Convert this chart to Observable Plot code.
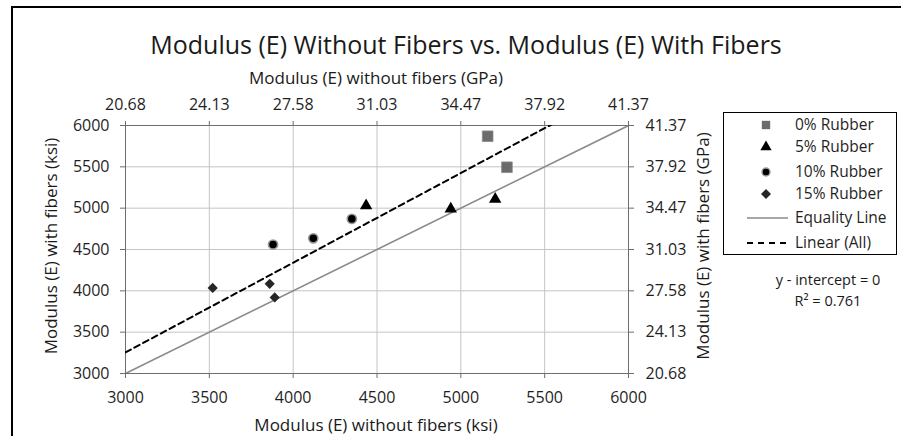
<!DOCTYPE html>
<html>
<head>
<meta charset="utf-8">
<script src="https://cdn.jsdelivr.net/npm/d3@7"></script>
<script src="https://cdn.jsdelivr.net/npm/@observablehq/plot@0.6"></script>
<style>
  body { margin: 0; background: #fff; }
  #wrap { position: relative; width: 901px; height: 436px; overflow: hidden; font-family: "Open Sans", sans-serif; color: #1a1a1a; }
  #border { position: absolute; left: 11px; top: 6px; width: 1000px; height: 1000px; border-left: 2.5px solid #000; border-top: 2.5px solid #000; }
  #chart { position: absolute; left: 0; top: 0; }
  .t { position: absolute; white-space: nowrap; line-height: 1; }
  #title { font-size: 25px; }
  .axt { font-size: 17px; }
  .ann { font-size: 14.5px; }
  #legend { position: absolute; left: 723px; top: 112px; width: 172px; height: 141px; border: 1.5px solid #000; background: #fff; }
  #legend svg { position: absolute; left: 0; top: 0; }
</style>
</head>
<body>
<div id="wrap">
  <div id="border"></div>
  <div id="chart"></div>
  <div id="title" class="t"></div>
  <div id="xTopTitle" class="t axt"></div>
  <div id="xBotTitle" class="t axt"></div>
  <div id="yLeftTitle" class="t axt"></div>
  <div id="yRightTitle" class="t axt"></div>
  <div id="legend"></div>
  <div id="ann1" class="t ann"></div>
  <div id="ann2" class="t ann"></div>
</div>
<script>
// ---- data ----
const titleText = "Modulus (E) Without Fibers vs. Modulus (E) With Fibers";
const xTopLabel = "Modulus (E) without fibers (GPa)";
const xBotLabel = "Modulus (E) without fibers (ksi)";
const yLeftLabel = "Modulus (E) with fibers (ksi)";
const yRightLabel = "Modulus (E) with fibers (GPa)";
const ksiTicks = [3000, 3500, 4000, 4500, 5000, 5500, 6000];
const gpaLabels = ["20.68", "24.13", "27.58", "31.03", "34.47", "37.92", "41.37"];
const seriesNames = ["0% Rubber", "5% Rubber", "10% Rubber", "15% Rubber"];
const rubber0X = [5160, 5275];
const rubber0Y = [5870, 5495];
const rubber5X = [4435, 4940, 5205];
const rubber5Y = [5030, 4990, 5110];
const rubber10X = [3880, 4120, 4350];
const rubber10Y = [4560, 4635, 4870];
const rubber15X = [3520, 3860, 3890];
const rubber15Y = [4035, 4085, 3920];
const lineNames = ["Equality Line", "Linear (All)"];
const trendSlope = 1.085;
const interceptText = "y - intercept = 0";
const r2Text = "R\u00B2 = 0.761";

// ---- build table ----
const seriesX = [rubber0X, rubber5X, rubber10X, rubber15X];
const seriesY = [rubber0Y, rubber5Y, rubber10Y, rubber15Y];
const points = [];
seriesNames.forEach((s, i) => seriesX[i].forEach((x, j) => points.push({ series: s, x, y: seriesY[i][j] })));
const bySeries = s => points.filter(p => p.series === s);
const domain = [ksiTicks[0], ksiTicks[ksiTicks.length - 1]];
const equality = domain.map(x => ({ x, y: x }));
const trend = domain.map(x => ({ x, y: trendSlope * x }));
const gpa = d => gpaLabels[ksiTicks.indexOf(d)];

const fontFam = '"Open Sans", sans-serif';
const axisStroke = "#6e6e6e";
const tickText = "#1f1f1f";

const chart = Plot.plot({
  width: 901,
  height: 436,
  marginTop: 125,
  marginBottom: 63,
  marginLeft: 125,
  marginRight: 273,
  style: { fontFamily: fontFam, fontSize: "16px", color: tickText, background: "transparent", overflow: "visible" },
  x: { domain, type: "linear" },
  y: { domain, type: "linear" },
  marks: [
    Plot.gridX(ksiTicks, { stroke: "#c4c4c4", strokeOpacity: 1 }),
    Plot.gridY(ksiTicks, { stroke: "#c4c4c4", strokeOpacity: 1 }),
    Plot.frame({ stroke: axisStroke }),
    Plot.axisX(ksiTicks, { anchor: "bottom", tickSize: 5, tickPadding: 13, stroke: axisStroke, fill: tickText, label: null, tickFormat: d => String(d) }),
    Plot.axisX(ksiTicks, { anchor: "top", tickSize: 5, tickPadding: 11, stroke: axisStroke, fill: tickText, label: null, tickFormat: gpa }),
    Plot.axisY(ksiTicks, { anchor: "left", tickSize: 5, tickPadding: 11, stroke: axisStroke, fill: tickText, label: null, tickFormat: d => String(d) }),
    Plot.axisY(ksiTicks, { anchor: "right", tickSize: 5, tickPadding: 12, stroke: axisStroke, fill: tickText, label: null, tickFormat: gpa }),
    Plot.line(equality, { x: "x", y: "y", stroke: "#8a8a8a", strokeWidth: 1.6, clip: true }),
    Plot.line(trend, { x: "x", y: "y", stroke: "#000", strokeWidth: 2, strokeDasharray: "6,4", clip: true }),
    Plot.dot(bySeries(seriesNames[0]), { x: "x", y: "y", symbol: "square", r: 6, fill: "#6b6b6b", stroke: "#8a8a8a", strokeWidth: 0.8 }),
    Plot.dot(bySeries(seriesNames[1]), { x: "x", y: "y", symbol: "triangle", r: 4.6, fill: "#000", stroke: "none" }),
    Plot.dot(bySeries(seriesNames[2]), { x: "x", y: "y", symbol: "circle", r: 4.6, fill: "#000", stroke: "#9a9a9a", strokeWidth: 1.6 }),
    Plot.dot(bySeries(seriesNames[3]), { x: "x", y: "y", symbol: "diamond2", r: 4.6, fill: "#262626", stroke: "none" })
  ]
});
document.getElementById("chart").appendChild(chart);

// ---- texts ----
function place(id, text, x, y, rot) {
  const el = document.getElementById(id);
  el.textContent = text;
  el.style.left = x + "px";
  el.style.top = y + "px";
  el.style.transform = "translate(-50%, -50%)" + (rot ? " rotate(" + rot + "deg)" : "");
}
place("title", titleText, 466, 44);
place("xTopTitle", xTopLabel, 376, 77);
place("xBotTitle", xBotLabel, 376, 424);
place("yLeftTitle", yLeftLabel, 50, 246, -90);
place("yRightTitle", yRightLabel, 702, 246, -90);
place("ann1", interceptText, 828, 280);
place("ann2", r2Text, 828, 301);

// ---- legend ----
const sym = [d3.symbolSquare, d3.symbolTriangle, d3.symbolCircle, d3.symbolSquare];
const symFill = ["#6b6b6b", "#000", "#000", "#262626"];
const symSize = [70, 55, 50, 50];
const rowY = [12, 34, 59, 81, 105, 130];
const lg = d3.select("#legend").append("svg").attr("width", 172).attr("height", 141)
  .style("font-family", fontFam).style("font-size", "15.5px");
seriesNames.forEach((s, i) => {
  const g = lg.append("g").attr("transform", `translate(42,${rowY[i]})` + (i === 3 ? " rotate(45)" : ""));
  g.append("path").attr("d", d3.symbol(sym[i], symSize[i])()).attr("fill", symFill[i])
    .attr("stroke", i === 2 ? "#9a9a9a" : "none").attr("stroke-width", 1.4);
  lg.append("text").attr("x", 71).attr("y", rowY[i]).attr("dy", "0.35em").attr("fill", tickText).text(s);
});
lg.append("line").attr("x1", 23).attr("x2", 64).attr("y1", rowY[4]).attr("y2", rowY[4]).attr("stroke", "#8a8a8a").attr("stroke-width", 1.6);
lg.append("text").attr("x", 71).attr("y", rowY[4]).attr("dy", "0.35em").attr("fill", tickText).text(lineNames[0]);
lg.append("line").attr("x1", 23).attr("x2", 62).attr("y1", rowY[5]).attr("y2", rowY[5]).attr("stroke", "#000").attr("stroke-width", 2).attr("stroke-dasharray", "6,5");
lg.append("text").attr("x", 71).attr("y", rowY[5]).attr("dy", "0.35em").attr("fill", tickText).text(lineNames[1]);
</script>
</body>
</html>
